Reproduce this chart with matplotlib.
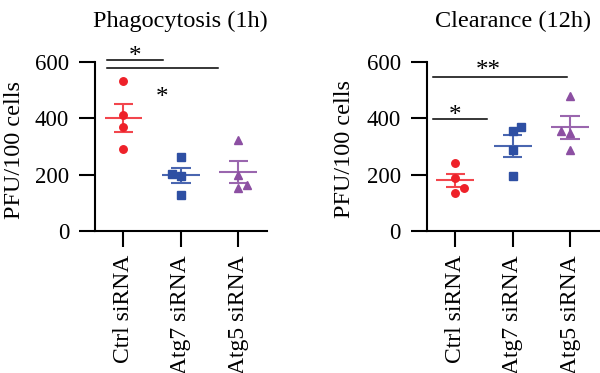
import numpy as np
import matplotlib.pyplot as plt

plt.rcParams['font.family'] = ['Liberation Serif', 'DejaVu Serif']
plt.rcParams['font.size'] = 16.5

groups = ['Ctrl siRNA', 'Atg7 siRNA', 'Atg5 siRNA']
colors = ['#EE2129', '#2E4FA3', '#8C4FA2']
light = ['#F2464D', '#4A66B0', '#9A66AE']
markers = ['o', 's', '^']

# PFU/100 cells, 4 replicates per group
phago = [[533, 412, 370, 290],
         [262, 202, 196, 128],
         [322, 198, 154, 162]]
phago_jit = [[0, 0, 0, 0],
             [0, -0.16, 0, 0],
             [0, 0, 0, 0.15]]

clear = [[240, 189, 154, 134],
         [370, 355, 288, 195],
         [480, 355, 347, 288]]
clear_jit = [[0, 0, 0.15, 0],
             [0.15, 0, 0, 0],
             [0, -0.15, 0, 0]]

fig = plt.figure(figsize=(6, 3.73), dpi=100)
ax1 = fig.add_axes([0.158, 0.381, 0.287, 0.453])
ax2 = fig.add_axes([0.711, 0.381, 0.287, 0.453])


def draw(ax, data, jit):
    for i, vals in enumerate(data):
        vals = np.array(vals, float)
        x = i + np.array(jit[i])
        ax.plot(x, vals, linestyle='none', marker=markers[i], ms=5.4 if i != 2 else 6,
                color=colors[i], mec=colors[i], zorder=3, clip_on=False)
        m = vals.mean()
        sem = vals.std(ddof=1) / np.sqrt(len(vals))
        ax.hlines(m, i - 0.33, i + 0.33, color=light[i], lw=1.5, zorder=2)
        ax.hlines([m - sem, m + sem], i - 0.17, i + 0.17, color=light[i], lw=1.5, zorder=2)
        ax.vlines(i, m - sem, m + sem, color=light[i], lw=1.5, zorder=2)

    ax.set_xlim(-0.5, 2.5)
    ax.set_ylim(0, 600)
    ax.set_yticks([0, 200, 400, 600])
    ax.set_xticks(range(3))
    ax.set_xticklabels(groups, rotation=90, fontsize=17)
    ax.spines['top'].set_visible(False)
    ax.spines['right'].set_visible(False)
    for s in ['left', 'bottom']:
        ax.spines[s].set_linewidth(1.5)
    ax.tick_params(axis='both', length=11.5, width=1.5)
    ax.tick_params(axis='y', pad=7)
    ax.tick_params(axis='x', pad=6)


draw(ax1, phago, phago_jit)
draw(ax2, clear, clear_jit)


def sig(ax, x0, x1, y, label, tx, ty):
    ax.plot([x0, x1], [y, y], color='black', lw=1.1, clip_on=False)
    ax.text(tx, ty, label, ha='center', va='center', fontsize=18, clip_on=False)


sig(ax1, -0.28, 0.68, 607, '*', 0.2, 618)
sig(ax1, -0.28, 1.65, 580, '', 0, 0)
ax1.text(0.67, 472, '*', ha='center', va='center', fontsize=18)

sig(ax2, -0.39, 1.95, 548, '**', 0.58, 568)
sig(ax2, -0.39, 0.56, 399, '*', 0.0, 408)

fig.text(0.30, 0.928, 'Phagocytosis (1h)', ha='center', va='baseline', fontsize=17.5)
fig.text(0.855, 0.928, 'Clearance (12h)', ha='center', va='baseline', fontsize=17.5)
fig.text(0.024, 0.598, 'PFU/100 cells', rotation=90, ha='center', va='center', fontsize=17.5)
fig.text(0.575, 0.600, 'PFU/100 cells', rotation=90, ha='center', va='center', fontsize=17.5)

fig.savefig('out.png', dpi=100)
